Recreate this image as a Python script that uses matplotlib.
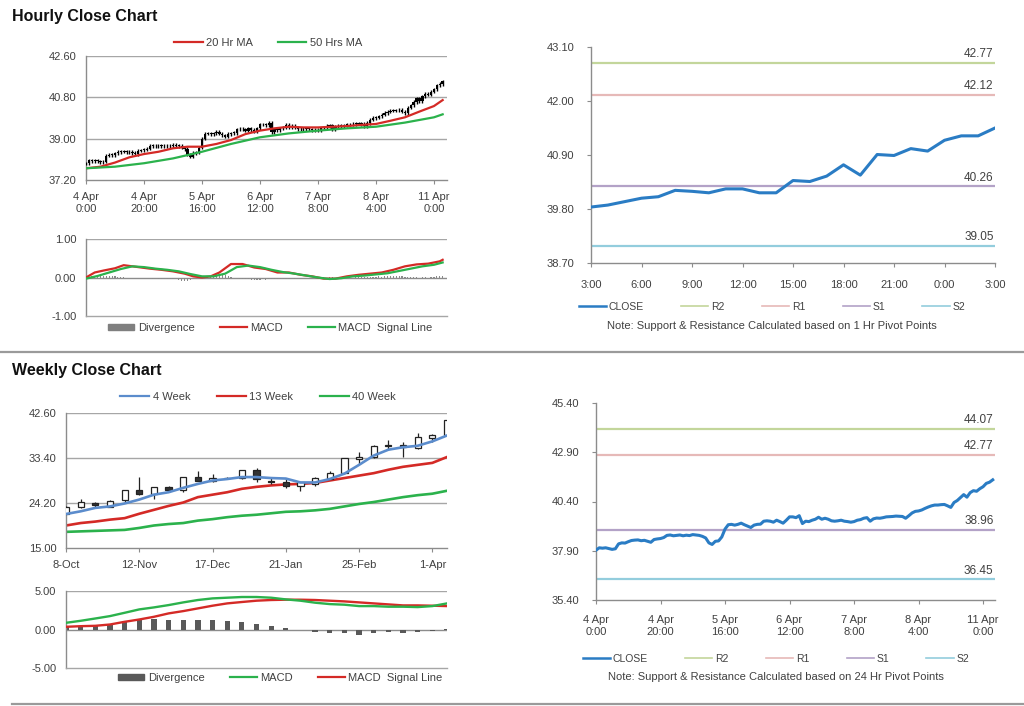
import matplotlib

matplotlib.use("Agg")
import matplotlib.pyplot as plt
import numpy as np
from matplotlib.lines import Line2D
from matplotlib.patches import Patch

plt.rcParams["font.family"] = ["Liberation Sans", "DejaVu Sans"]

# ---------------- data ----------------
# hourly closes, 4 Apr 0:00 .. 11 Apr ~3:00 (one per hour)
hourly_close = [
    37.93, 38.05, 38.03, 38.05, 38.01, 37.97, 38.00, 38.25, 38.30, 38.29,
    38.36, 38.42, 38.44, 38.45, 38.41, 38.43, 38.38, 38.33, 38.47, 38.50,
    38.52, 38.57, 38.68, 38.70, 38.66, 38.68, 38.70, 38.66, 38.69, 38.67,
    38.72, 38.70, 38.68, 38.63, 38.55, 38.30, 38.22, 38.38, 38.40, 38.60,
    39.00, 39.22, 39.24, 39.20, 39.24, 39.30, 39.22, 39.15, 39.08, 39.20,
    39.24, 39.25, 39.40, 39.42, 39.40, 39.35, 39.45, 39.38, 39.30, 39.45,
    39.62, 39.62, 39.58, 39.68, 39.28, 39.40, 39.38, 39.45, 39.50, 39.60,
    39.50, 39.55, 39.50, 39.42, 39.40, 39.42, 39.45, 39.40, 39.38, 39.35,
    39.38, 39.45, 39.48, 39.55, 39.58, 39.40, 39.52, 39.56, 39.55, 39.58,
    39.62, 39.63, 39.64, 39.66, 39.65, 39.64, 39.55, 39.68, 39.82, 39.90,
    39.92, 39.97, 40.05, 40.12, 40.18, 40.22, 40.22, 40.24, 40.25, 40.18,
    40.10, 40.35, 40.45, 40.60, 40.75, 40.62, 40.85, 40.95, 40.92, 41.05,
    41.15, 41.32, 41.38, 41.50,
]
hourly_tick_hours = [0, 20, 40, 60, 80, 100, 120]
hourly_tick_labels = ["4 Apr\n0:00", "4 Apr\n20:00", "5 Apr\n16:00", "6 Apr\n12:00",
                      "7 Apr\n8:00", "8 Apr\n4:00", "11 Apr\n0:00"]
hourly_yticks = [37.20, 39.00, 40.80, 42.60]

ma20_hours = [0, 5, 10, 15, 20, 25, 30, 35, 40, 45, 50, 55, 60, 65, 70, 75, 80,
              85, 90, 95, 100, 105, 110, 115, 120, 123]
ma20 = [37.71, 37.78, 37.96, 38.19, 38.33, 38.43, 38.58, 38.65, 38.65, 38.77, 38.94,
        39.20, 39.35, 39.45, 39.52, 39.49, 39.49, 39.52, 39.55, 39.60, 39.64, 39.78,
        39.93, 40.18, 40.42, 40.68]
ma50_hours = [0, 10, 20, 30, 40, 50, 60, 70, 80, 90, 100, 110, 120, 123]
ma50 = [37.71, 37.78, 37.93, 38.14, 38.43, 38.77, 39.06, 39.23, 39.35, 39.45, 39.52,
        39.70, 39.93, 40.06]

macd_h_hours = [0, 3, 6, 10, 13, 15, 18, 22, 26, 30, 34, 37, 40, 43, 46, 50, 54, 58,
                62, 66, 70, 74, 78, 82, 86, 90, 94, 98, 102, 106, 110, 114, 118, 122, 123]
macd_h = [0.00, 0.13, 0.18, 0.24, 0.32, 0.30, 0.27, 0.23, 0.20, 0.16, 0.10, 0.03, 0.00,
          0.03, 0.13, 0.35, 0.35, 0.26, 0.22, 0.13, 0.13, 0.07, 0.03, -0.03, -0.03, 0.03,
          0.07, 0.10, 0.13, 0.20, 0.29, 0.34, 0.36, 0.42, 0.46]
signal_h_hours = [0, 4, 8, 12, 16, 20, 24, 28, 32, 36, 40, 44, 48, 52, 56, 60, 64, 68,
                  72, 76, 80, 84, 88, 92, 96, 100, 104, 108, 112, 116, 120, 123]
signal_h = [-0.03, 0.04, 0.13, 0.22, 0.29, 0.27, 0.23, 0.20, 0.16, 0.09, 0.03, 0.03,
            0.10, 0.27, 0.31, 0.27, 0.20, 0.14, 0.10, 0.05, 0.00, -0.04, -0.02, 0.03,
            0.05, 0.08, 0.11, 0.17, 0.23, 0.29, 0.33, 0.39]
divergence_h = [
    0.00, 0.03, 0.04, 0.05, 0.05, 0.04, 0.04, 0.05, 0.04, 0.03, 0.03, 0.02, 0.02,
    0.01, -0.01, -0.01, -0.02, -0.02, -0.02, -0.02, -0.02,
    -0.02, -0.02, -0.03, -0.02, -0.03, -0.03, -0.02, -0.03, -0.03, -0.04,
    -0.05, -0.07, -0.08, -0.08, -0.09, -0.07, -0.05, -0.03, -0.01,
    0.02, 0.03, 0.04, 0.05, 0.06, 0.07, 0.08, 0.09, 0.07, 0.05, 0.02,
    -0.01, -0.02, -0.03, -0.04, -0.05, -0.05, -0.06, -0.06, -0.07, -0.06,
    -0.05, -0.06, -0.05, -0.04, -0.05, -0.04, -0.03, -0.04, -0.03, -0.03,
    -0.02, -0.03, -0.02, -0.02, -0.01, -0.02, -0.01, -0.01, 0.00, 0.01,
    0.01, 0.01, 0.00, 0.01, 0.01, 0.00, 0.01, 0.01, 0.00, 0.01,
    0.01, 0.00, 0.01, 0.02, 0.01, 0.02, 0.01, 0.02, 0.01, 0.02,
    0.03, 0.02, 0.03, 0.04, 0.05, 0.04, 0.05, 0.04, 0.03, 0.02,
    0.02, 0.01, 0.02, 0.01, 0.00, 0.01, 0.01, 0.00, 0.01, 0.02, 0.04, 0.05, 0.05,
]
macd_yticks = [-1.00, 0.00, 1.00]

# last 24 hours, 1 Hr pivots
pivot1_labels = ["3:00", "6:00", "9:00", "12:00", "15:00", "18:00", "21:00", "0:00", "3:00"]
pivot1_close = [39.84, 39.88, 39.95, 40.02, 40.05, 40.18, 40.16, 40.13, 40.21, 40.21,
                40.13, 40.13, 40.38, 40.36, 40.47, 40.70, 40.49, 40.91, 40.89, 41.03,
                40.98, 41.20, 41.29, 41.29, 41.45]
pivot1_levels = {"R2": 42.77, "R1": 42.12, "S1": 40.26, "S2": 39.05}
pivot1_yticks = [38.70, 39.80, 40.90, 42.00, 43.10]

# 24 Hr pivots on the hourly close
pivot24_levels = {"R2": 44.07, "R1": 42.77, "S1": 38.96, "S2": 36.45}
pivot24_yticks = [35.40, 37.90, 40.40, 42.90, 45.40]

# weekly candles
week_labels = ["8-Oct", "12-Nov", "17-Dec", "21-Jan", "25-Feb", "1-Apr"]
week_label_pos = [0, 5, 10, 15, 20, 25]
week_open = [22.0, 23.3, 24.3, 23.4, 24.9, 26.8, 26.1, 27.5, 26.8, 29.5, 28.8, 29.3, 29.3,
             30.9, 28.8, 28.4, 27.7, 28.1, 29.2, 30.3, 33.2, 33.6, 36.1, 36.1, 35.4, 37.5, 38.2]
week_high = [23.5, 25.0, 24.5, 24.8, 26.9, 29.5, 27.5, 27.7, 29.6, 30.7, 30.1, 29.6, 31.0,
             31.3, 29.6, 29.3, 28.5, 29.5, 30.8, 33.4, 34.6, 36.0, 37.0, 36.7, 38.5, 38.3, 41.2]
week_low = [21.9, 23.2, 23.2, 23.3, 24.1, 25.9, 25.0, 26.4, 26.5, 28.6, 28.5, 29.2, 29.2,
            28.5, 28.1, 27.3, 26.6, 27.6, 29.1, 30.2, 32.2, 33.5, 35.0, 33.7, 35.3, 36.6, 38.1]
week_close = [23.3, 24.4, 23.7, 24.7, 26.8, 26.1, 27.4, 26.9, 29.5, 28.8, 29.3, 29.4, 30.9,
              29.2, 28.5, 27.7, 28.4, 29.3, 30.3, 33.3, 33.7, 35.9, 35.8, 35.6, 37.6, 38.2, 41.1]
ma4w = [21.95, 22.5, 23.2, 23.5, 24.1, 24.9, 25.9, 26.4, 27.3, 28.1, 28.8, 29.1, 29.5, 29.5,
        29.3, 29.2, 28.4, 28.4, 29.1, 30.2, 32.0, 33.9, 35.1, 35.6, 35.9, 36.8, 38.0]
ma13w = [19.6, 20.1, 20.4, 20.8, 21.1, 22.0, 22.8, 23.6, 24.3, 25.4, 25.9, 26.4, 27.1, 27.5,
         27.8, 28.0, 28.1, 28.3, 28.8, 29.3, 29.8, 30.3, 31.0, 31.6, 32.0, 32.4, 33.6]
ma40w = [18.3, 18.4, 18.5, 18.6, 18.7, 19.1, 19.6, 19.9, 20.1, 20.6, 20.9, 21.3, 21.6, 21.8,
         22.1, 22.4, 22.5, 22.7, 23.0, 23.5, 24.0, 24.4, 24.9, 25.4, 25.8, 26.1, 26.7]
week_yticks = [15.00, 24.20, 33.40, 42.60]

macd_w = [0.87, 1.13, 1.43, 1.74, 2.17, 2.61, 2.87, 3.17, 3.52, 3.83, 4.04, 4.13, 4.22, 4.22,
          4.13, 3.91, 3.74, 3.48, 3.30, 3.22, 3.04, 3.04, 2.96, 2.96, 2.91, 3.04, 3.39]
signal_w = [0.35, 0.43, 0.48, 0.65, 1.00, 1.30, 1.65, 2.09, 2.39, 2.74, 3.09, 3.39, 3.57, 3.74,
            3.83, 3.87, 3.87, 3.83, 3.74, 3.65, 3.52, 3.39, 3.26, 3.13, 3.13, 3.09, 3.04]
divergence_w = [0.50, 0.51, 0.51, 0.73, 1.07, 1.28, 1.41, 1.28, 1.28, 1.28, 1.28, 1.07, 0.94,
                0.73, 0.51, 0.21, -0.09, -0.26, -0.51, -0.51, -0.68, -0.51, -0.34, -0.43,
                -0.26, -0.17, 0.05]
macd_w_yticks = [-5.00, 0.00, 5.00]

# ---------------- styles ----------------
TEXT = "#404040"
AXIS = "#8c8c8c"
GRID = "#a6a6a6"
RED = "#d42a26"
GREEN = "#2bb24c"
BLUE4 = "#5b8ccc"
CLOSE_BLUE = "#2a7cc4"
LEVEL_COLORS = {"R2": "#c3d69b", "R1": "#e6b9b8", "S1": "#b3a2c7", "S2": "#93cddd"}
FS = 8

W, H = 1024, 706


def rect(x0, y0, x1, y1):
    """pixel box (top-left origin) -> figure fraction rect"""
    return [x0 / W, 1 - y1 / H, (x1 - x0) / W, (y1 - y0) / H]


def style(ax, yticks, grid=True, left_tick=0):
    for s in ("top", "right"):
        ax.spines[s].set_visible(False)
    for s in ("left", "bottom"):
        ax.spines[s].set_color(AXIS)
        ax.spines[s].set_linewidth(1.0)
    ax.set_yticks(yticks)
    ax.set_yticklabels([f"{v:.2f}" for v in yticks])
    ax.tick_params(axis="y", length=left_tick, colors=AXIS, labelcolor=TEXT, labelsize=FS, pad=7)
    ax.tick_params(axis="x", length=3, colors=AXIS, labelcolor=TEXT, labelsize=FS, direction="out")
    if grid:
        for v in yticks[1:]:
            ax.axhline(v, color=GRID, lw=1.0, zorder=0)


fig = plt.figure(figsize=(W / 100, H / 100), dpi=100)

fig.text(12 / W, 1 - 16 / H, "Hourly Close Chart", fontsize=11.5, fontweight="bold",
         va="center", color="#111111")
fig.text(12 / W, 1 - 370 / H, "Weekly Close Chart", fontsize=11.5, fontweight="bold",
         va="center", color="#111111")
for yy, x0 in ((352, 0.0), (704, 12 / W)):
    fig.add_artist(Line2D([x0, 1.0], [1 - yy / H] * 2, color="#9a9a9a", lw=1.6,
                          transform=fig.transFigure))

# ---------- hourly candles ----------
hours = np.arange(len(hourly_close))
closes = np.array(hourly_close)
opens = np.concatenate([[closes[0]], closes[:-1]])
lo = np.minimum(opens, closes)
hi = np.maximum(opens, closes)

ax1 = fig.add_axes(rect(86, 56, 447, 180))
style(ax1, hourly_yticks)
ax1.vlines(hours, lo - 0.07, hi + 0.07, color="black", lw=1.0, zorder=3)
ax1.bar(hours, np.maximum(hi - lo, 0.03), bottom=lo, width=0.8, color="black", zorder=3)
ax1.plot(ma20_hours, ma20, color=RED, lw=1.6, zorder=4)
ax1.plot(ma50_hours, ma50, color=GREEN, lw=1.6, zorder=4)
ax1.set_xlim(0, 124.5)
ax1.set_ylim(37.2, 42.6)
ax1.set_xticks(hourly_tick_hours)
ax1.set_xticklabels(hourly_tick_labels, linespacing=1.25)
ax1.tick_params(axis="x", pad=6)
fig.legend(handles=[Line2D([], [], color=RED, lw=1.6, label="20 Hr MA"),
                    Line2D([], [], color=GREEN, lw=1.6, label="50 Hrs MA")],
           loc="center", bbox_to_anchor=(268 / W, 1 - 43 / H), ncol=2, frameon=False,
           fontsize=FS, handlelength=2.6, handletextpad=0.3, columnspacing=2.2,
           labelcolor=TEXT)

# ---------- hourly MACD ----------
ax2 = fig.add_axes(rect(86, 239, 447, 316))
style(ax2, macd_yticks, grid=False)
ax2.axhline(1.0, color=GRID, lw=1.0, zorder=0)
ax2.axhline(0.0, color=AXIS, lw=1.0, zorder=1)
ax2.spines["bottom"].set_color(GRID)
ax2.bar(hours, divergence_h, width=0.4, color="#8a8a8a", zorder=2)
ax2.plot(macd_h_hours, macd_h, color=RED, lw=1.6, zorder=3)
ax2.plot(signal_h_hours, signal_h, color=GREEN, lw=1.6, zorder=4)
ax2.set_xlim(0, 124.5)
ax2.set_ylim(-1, 1)
ax2.set_xticks([])
fig.legend(handles=[Patch(color="#7f7f7f", label="Divergence"),
                    Line2D([], [], color=RED, lw=1.6, label="MACD"),
                    Line2D([], [], color=GREEN, lw=1.6, label="MACD  Signal Line")],
           loc="center", bbox_to_anchor=(270 / W, 1 - 328 / H), ncol=3, frameon=False,
           fontsize=FS, handlelength=2.4, handleheight=0.5, handletextpad=0.3,
           columnspacing=2.3, labelcolor=TEXT)


def pivot_panel(ax, xs, ys, levels, yticks):
    style(ax, yticks, grid=False, left_tick=3)
    ax.tick_params(axis="y", pad=9)
    for name, v in levels.items():
        ax.axhline(v, color=LEVEL_COLORS[name], lw=1.6, zorder=1)
        ax.annotate(f"{v:.2f}", xy=(1.0, v), xycoords=("axes fraction", "data"),
                    xytext=(-1, 2), textcoords="offset points", ha="right", va="bottom",
                    fontsize=8.5, color=TEXT)
    ax.plot(xs, ys, color=CLOSE_BLUE, lw=2.2, zorder=3)
    ax.set_ylim(yticks[0], yticks[-1])


def pivot_legend(x_center, y_close, y_note, note):
    handles = [Line2D([], [], color=CLOSE_BLUE, lw=1.8, label="CLOSE")]
    handles += [Line2D([], [], color=LEVEL_COLORS[k], lw=1.2, label=k) for k in ("R2", "R1", "S1", "S2")]
    fig.legend(handles=handles, loc="center", bbox_to_anchor=(x_center / W, 1 - y_close / H),
               ncol=5, frameon=False, fontsize=7.5, handlelength=2.6, handletextpad=0.25,
               columnspacing=3.6, labelcolor=TEXT)
    fig.text(x_center / W, 1 - y_note / H, note, ha="center", va="center", fontsize=8, color=TEXT)


# ---------- 1 Hr pivot chart ----------
ax3 = fig.add_axes(rect(591, 47, 995, 263))
p_hours = np.arange(len(pivot1_close))
pivot_panel(ax3, p_hours, pivot1_close, pivot1_levels, pivot1_yticks)
ax3.set_xlim(0, 24)
ax3.set_xticks(np.arange(0, 25, 3))
ax3.set_xticklabels(pivot1_labels)
ax3.tick_params(axis="x", pad=9)
pivot_legend(772, 307, 326, "Note: Support & Resistance Calculated based on 1 Hr Pivot Points")

# ---------- weekly candles ----------
weeks = np.arange(len(week_close))
wo, wc = np.array(week_open), np.array(week_close)
ax4 = fig.add_axes(rect(66, 413, 447, 548))
style(ax4, week_yticks)
ax4.vlines(weeks, week_low, week_high, color="#222222", lw=0.9, zorder=3)
up = wc >= wo
ax4.bar(weeks, np.abs(wc - wo), bottom=np.minimum(wo, wc), width=0.42,
        color=np.where(up, "white", "#333333"), edgecolor="#222222", lw=0.9, zorder=4)
ax4.plot(weeks, ma13w, color=RED, lw=1.9, zorder=2)
ax4.plot(weeks, ma40w, color=GREEN, lw=1.9, zorder=2)
ax4.plot(weeks, ma4w, color=BLUE4, lw=1.9, zorder=5)
ax4.set_xlim(0, 26)
ax4.set_ylim(15.0, 42.6)
ax4.set_xticks(week_label_pos)
ax4.set_xticklabels(week_labels)
ax4.tick_params(axis="x", pad=6)
fig.legend(handles=[Line2D([], [], color=BLUE4, lw=1.6, label="4 Week"),
                    Line2D([], [], color=RED, lw=1.6, label="13 Week"),
                    Line2D([], [], color=GREEN, lw=1.6, label="40 Week")],
           loc="center", bbox_to_anchor=(258 / W, 1 - 397 / H), ncol=3, frameon=False,
           fontsize=FS, handlelength=2.6, handletextpad=0.3, columnspacing=2.4,
           labelcolor=TEXT)

# ---------- weekly MACD ----------
ax5 = fig.add_axes(rect(66, 591, 447, 668))
style(ax5, macd_w_yticks, grid=False)
ax5.axhline(5.0, color=GRID, lw=1.0, zorder=0)
ax5.axhline(0.0, color=AXIS, lw=1.0, zorder=1)
ax5.spines["bottom"].set_color(GRID)
ax5.bar(weeks, divergence_w, width=0.36, color="#595959", zorder=2)
ax5.plot(weeks, signal_w, color=RED, lw=1.7, zorder=3)
ax5.plot(weeks, macd_w, color=GREEN, lw=1.7, zorder=4)
ax5.set_xlim(0, 26)
ax5.set_ylim(-5, 5)
ax5.set_xticks([])
fig.legend(handles=[Patch(color="#595959", label="Divergence"),
                    Line2D([], [], color=GREEN, lw=1.6, label="MACD"),
                    Line2D([], [], color=RED, lw=1.6, label="MACD  Signal Line")],
           loc="center", bbox_to_anchor=(280 / W, 1 - 678 / H), ncol=3, frameon=False,
           fontsize=FS, handlelength=2.4, handleheight=0.5, handletextpad=0.3,
           columnspacing=2.3, labelcolor=TEXT)

# ---------- 24 Hr pivot chart ----------
ax6 = fig.add_axes(rect(596, 403, 995, 600))
pivot_panel(ax6, hours, hourly_close, pivot24_levels, pivot24_yticks)
ax6.set_xlim(0, 123.7)
ax6.set_xticks(hourly_tick_hours)
ax6.set_xticklabels(hourly_tick_labels, linespacing=1.25)
ax6.tick_params(axis="x", pad=8)
pivot_legend(776, 659, 677, "Note: Support & Resistance Calculated based on 24 Hr Pivot Points")

fig.savefig("out.png", dpi=100, facecolor="white")
